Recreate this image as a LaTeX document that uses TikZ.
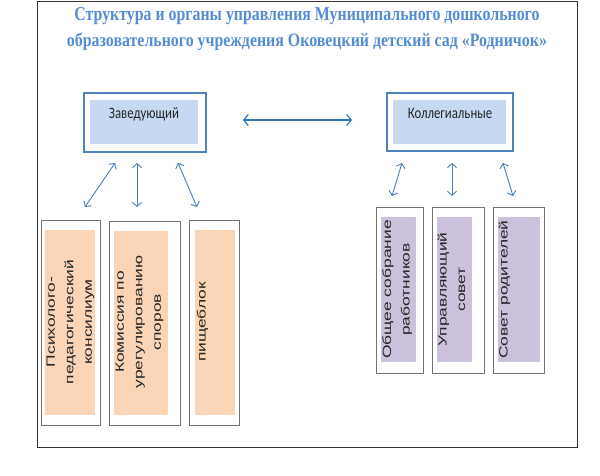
\documentclass[tikz,border=0pt]{standalone}
\usepackage{fontspec}
\usetikzlibrary{arrows.meta,shadows}
\setmainfont{Liberation Sans}
\newfontfamily\titlefont{Liberation Serif}
\newfontfamily\headfont[FakeStretch=0.8]{Carlito}
\newfontfamily\vfont[FakeStretch=1.45]{Liberation Sans}
\definecolor{ttl}{HTML}{548DD4}
\definecolor{frblue}{HTML}{4F81BD}
\definecolor{inblue}{HTML}{C6D9F1}
\definecolor{peach}{HTML}{FBD5B5}
\definecolor{lav}{HTML}{CCC1DA}
\definecolor{arrblue}{HTML}{4A7EBB}
\definecolor{harr}{HTML}{2E75B6}
\tikzset{
  box/.style={anchor=north west, inner sep=0pt, outer sep=0pt},
  topouter/.style={box, draw=frblue, line width=2.2pt, fill=white},
  topinner/.style={box, fill=inblue},
  botouter/.style={box, draw=black!55, line width=0.8pt, fill=white,
    drop shadow={shadow xshift=1.2pt, shadow yshift=-1.2pt, fill=black!30, opacity=1}},
  peachbox/.style={box, fill=peach},
  lavbox/.style={box, fill=lav},
  headtext/.style={anchor=base, inner sep=0pt, font=\headfont\fontsize{16}{18}\selectfont, text=black!85},
  vtext/.style={rotate=90, anchor=north, inner sep=0pt, align=center, font=\vfont\fontsize{12}{18.5}\selectfont, text=black!85},
  arr/.style={draw=arrblue, line width=0.9pt, {Straight Barb[length=4pt,width=9pt]}-{Straight Barb[length=4pt,width=9pt]}},
  harrow/.style={draw=harr, line width=1.2pt, {Straight Barb[length=4.5pt,width=11pt]}-{Straight Barb[length=4.5pt,width=11pt]}}
}
\begin{document}
\begin{tikzpicture}[x=1pt,y=-1pt]
\useasboundingbox (0,0) rectangle (600,475);
% outer frame
\draw[black!80, line width=0.9pt] (37,1) rectangle (577,447);
% title
\node[anchor=base, inner sep=0pt, text=ttl] (t1) at (307,20) {\resizebox{465pt}{13pt}{\titlefont\bfseries Структура и органы управления Муниципального дошкольного}};
\node[anchor=base, inner sep=0pt, text=ttl] (t2) at (307,46) {\resizebox{480pt}{13.5pt}{\titlefont\bfseries образовательного учреждения Оковецкий детский сад «Родничок»}};
% top boxes
\node[topouter, minimum width=121.8pt, minimum height=58.8pt] (zav) at (84.1,93.1) {};
\node[topinner, minimum width=108pt, minimum height=44pt] (zavin) at (90,100) {};
\node[headtext] (zavt) at (144,118) {Заведующий};
\node[topouter, minimum width=125.8pt, minimum height=58pt] (kol) at (387.1,93.1) {};
\node[topinner, minimum width=113pt, minimum height=44pt] (kolin) at (393,100) {};
\node[headtext] (kolt) at (450,118) {Коллегиальные};
% left bottom boxes
\node[botouter, minimum width=59pt, minimum height=205pt] (b1) at (41,220) {};
\node[peachbox, minimum width=50pt, minimum height=185pt] (b1in) at (45,230) {};
\node[vtext] (b1t) at (46.5,322) {Психолого-\\педагогический\\консилиум};
\node[botouter, minimum width=71pt, minimum height=204pt] (b2) at (109,221) {};
\node[peachbox, minimum width=54pt, minimum height=184pt] (b2in) at (114,231) {};
\node[vtext] (b2t) at (115.5,322) {Комиссия по\\урегулированию\\споров};
\node[botouter, minimum width=50pt, minimum height=205pt] (b3) at (189,220) {};
\node[peachbox, minimum width=40pt, minimum height=185pt] (b3in) at (195,230) {};
\node[vtext] (b3t) at (196.5,322) {пищеблок};
% right bottom boxes
\node[botouter, minimum width=47pt, minimum height=166pt] (ra) at (376,207) {};
\node[lavbox, minimum width=35pt, minimum height=145pt] (rain) at (381,217) {};
\node[vtext] (rat) at (382,289.5) {Общее собрание\\работников};
\node[botouter, minimum width=52pt, minimum height=166pt] (rb) at (432,207) {};
\node[lavbox, minimum width=35pt, minimum height=145pt] (rbin) at (437,217) {};
\node[vtext] (rbt) at (437.5,289.5) {Управляющий\\совет};
\node[botouter, minimum width=51pt, minimum height=166pt] (rc) at (493,207) {};
\node[lavbox, minimum width=42pt, minimum height=145pt] (rcin) at (498,217) {};
\node[vtext] (rct) at (498.5,289.5) {Совет родителей};
% arrow end points
\coordinate (h1) at (243,120);
\coordinate (h2) at (352,120);
\coordinate (l1a) at (115,163); \coordinate (l1b) at (85,207);
\coordinate (l2a) at (137,163); \coordinate (l2b) at (137,207);
\coordinate (l3a) at (178,163); \coordinate (l3b) at (197,207);
\coordinate (r1a) at (402,163); \coordinate (r1b) at (392,196);
\coordinate (r2a) at (452,163); \coordinate (r2b) at (452,196);
\coordinate (r3a) at (503,163); \coordinate (r3b) at (513,196);
\draw[harrow] (h1) -- (h2);
\draw[arr] (l1a) -- (l1b);
\draw[arr] (l2a) -- (l2b);
\draw[arr] (l3a) -- (l3b);
\draw[arr] (r1a) -- (r1b);
\draw[arr] (r2a) -- (r2b);
\draw[arr] (r3a) -- (r3b);
\end{tikzpicture}
\end{document}
